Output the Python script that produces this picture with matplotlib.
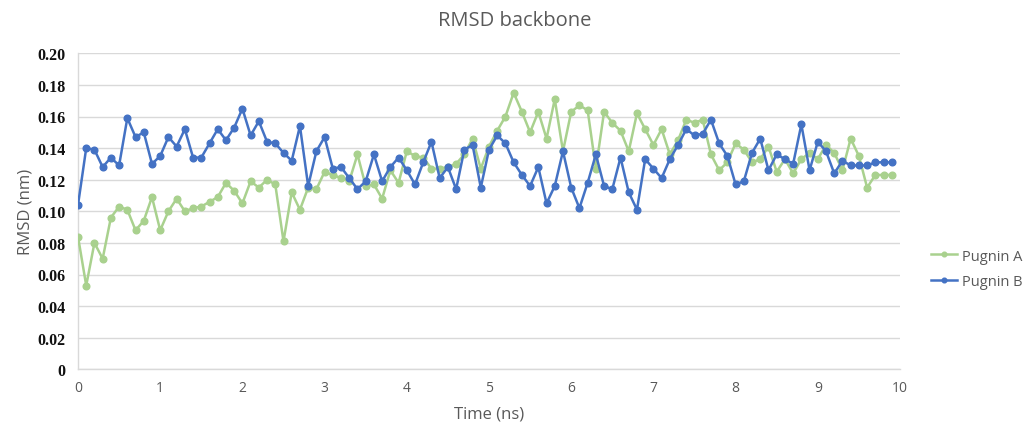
import matplotlib
matplotlib.use("Agg")
import matplotlib.pyplot as plt
import numpy as np

time_ns = [round(i * 0.1, 1) for i in range(100)]

pugnin_a = [
    0.084, 0.053, 0.080, 0.070, 0.096, 0.103, 0.101, 0.088, 0.094, 0.109,
    0.088, 0.100, 0.108, 0.100, 0.102, 0.103, 0.106, 0.109, 0.118, 0.113,
    0.105, 0.119, 0.115, 0.120, 0.117, 0.081, 0.112, 0.101, 0.115, 0.114,
    0.125, 0.123, 0.121, 0.119, 0.136, 0.116, 0.117, 0.108, 0.126, 0.118,
    0.138, 0.135, 0.134, 0.127, 0.127, 0.128, 0.130, 0.136, 0.146, 0.127,
    0.141, 0.151, 0.160, 0.175, 0.163, 0.150, 0.163, 0.146, 0.171, 0.138,
    0.163, 0.167, 0.164, 0.127, 0.163, 0.156, 0.151, 0.138, 0.162, 0.152,
    0.142, 0.152, 0.136, 0.145, 0.158, 0.156, 0.158, 0.136, 0.126, 0.131,
    0.143, 0.139, 0.131, 0.133, 0.141, 0.125, 0.133, 0.124, 0.133, 0.137,
    0.133, 0.142, 0.137, 0.126, 0.146, 0.135, 0.115, 0.123, 0.123, 0.123,
]

pugnin_b = [
    0.104, 0.140, 0.139, 0.128, 0.134, 0.129, 0.159, 0.147, 0.150, 0.130,
    0.135, 0.147, 0.141, 0.152, 0.134, 0.134, 0.143, 0.152, 0.145, 0.153,
    0.165, 0.148, 0.157, 0.144, 0.143, 0.137, 0.132, 0.154, 0.116, 0.138,
    0.147, 0.127, 0.128, 0.121, 0.114, 0.119, 0.136, 0.119, 0.128, 0.134,
    0.126, 0.117, 0.131, 0.144, 0.121, 0.128, 0.114, 0.139, 0.142, 0.115,
    0.139, 0.148, 0.143, 0.131, 0.123, 0.116, 0.128, 0.105, 0.116, 0.138,
    0.115, 0.102, 0.118, 0.136, 0.116, 0.114, 0.134, 0.112, 0.101, 0.133,
    0.127, 0.121, 0.133, 0.142, 0.152, 0.148, 0.149, 0.158, 0.143, 0.135,
    0.117, 0.119, 0.137, 0.146, 0.126, 0.136, 0.133, 0.130, 0.155, 0.126,
    0.144, 0.138, 0.124, 0.132, 0.129, 0.129, 0.129, 0.131, 0.131, 0.131,
]

x_ticks = list(range(0, 11))
y_ticks = [0, 0.02, 0.04, 0.06, 0.08, 0.10, 0.12, 0.14, 0.16, 0.18, 0.20]
y_tick_labels = ["0", "0.02", "0.04", "0.06", "0.08", "0.10", "0.12", "0.14", "0.16", "0.18", "0.20"]

green = "#A9D18E"
blue = "#4472C4"
grey_text = "#595959"
grid_c = "#D9D9D9"

fig = plt.figure(figsize=(10.3, 4.27), dpi=100)
ax = fig.add_axes([78 / 1030, 1 - 370.3 / 427, (900 - 78) / 1030, (370.3 - 54.3) / 427])

ax.plot(time_ns, pugnin_a, color=green, lw=1.8, marker="o", ms=4.8, label="Pugnin A", zorder=3)
ax.plot(time_ns, pugnin_b, color=blue, lw=1.8, marker="o", ms=4.8, label="Pugnin B", zorder=4)

ax.set_xlim(0, 10)
ax.set_ylim(0, 0.20)
ax.set_xticks(x_ticks)
ax.set_xticklabels([str(t) for t in x_ticks], fontsize=10, color=grey_text, family="Open Sans")
ax.set_yticks(y_ticks)
ax.set_yticklabels(y_tick_labels, fontsize=11.5, fontweight="bold", family="Liberation Serif", color="#111111")
ax.tick_params(axis="both", length=0)
ax.tick_params(axis="y", pad=9)
ax.tick_params(axis="x", pad=8)

ax.grid(axis="y", color=grid_c, lw=1)
ax.set_axisbelow(True)
for s in ["top", "right"]:
    ax.spines[s].set_visible(False)
ax.spines["left"].set_color(grid_c)
ax.spines["bottom"].set_color(grid_c)
ax.spines["bottom"].set_linewidth(1)
ax.spines["left"].set_linewidth(1)

ax.set_xlabel("Time (ns)", fontsize=12, color=grey_text, family="Open Sans", labelpad=7)
ax.set_ylabel("RMSD (nm)", fontsize=12, color=grey_text, family="Open Sans", labelpad=3)
fig.text(515 / 1030, 1 - 21 / 427, "RMSD backbone", ha="center", va="center",
         fontsize=14.5, color=grey_text, family="Open Sans")

leg = ax.legend(loc="center left", frameon=False,
                labelcolor=grey_text, handlelength=1.8, markerscale=0.7,
                labelspacing=0.75, handletextpad=0.3, prop={"family": "Open Sans", "size": 10.5})
leg.set_bbox_to_anchor((918 / 1030, 1 - 270 / 427), transform=fig.transFigure)

fig.savefig("out.png", dpi=100)
